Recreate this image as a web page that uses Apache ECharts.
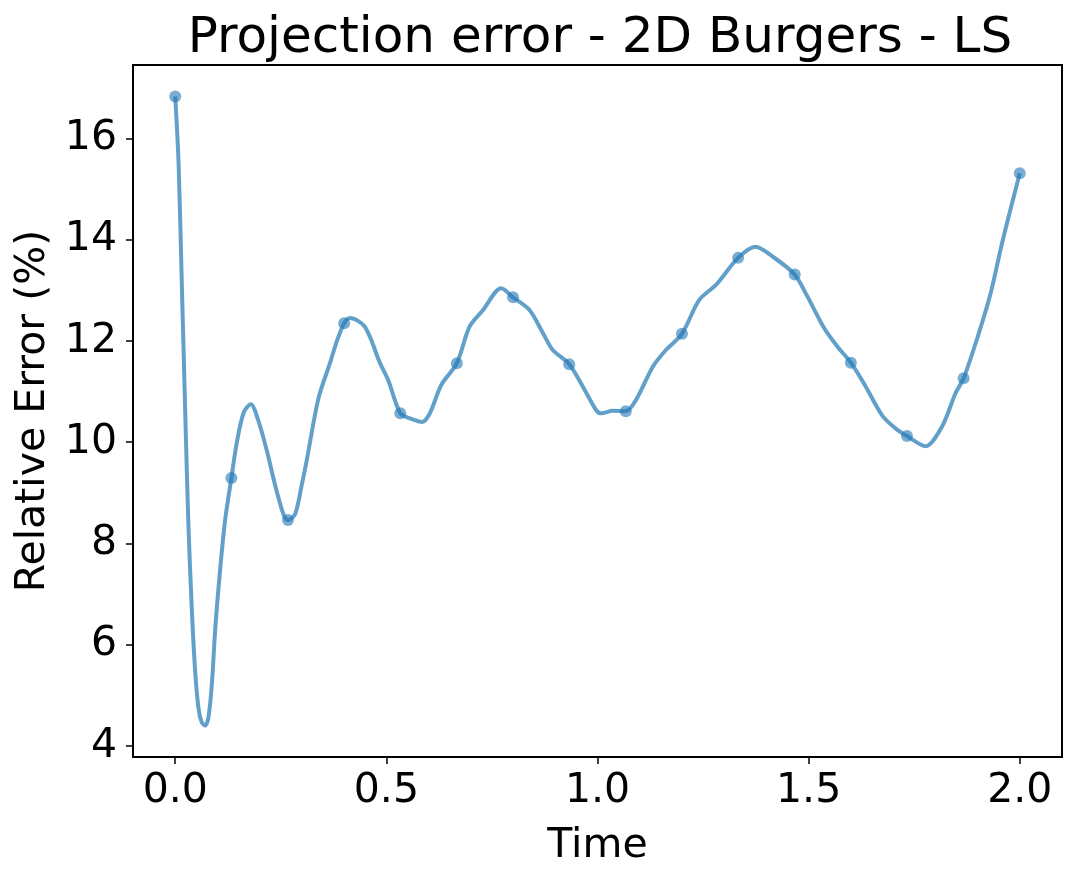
<!DOCTYPE html>
<html>
<head>
<meta charset="utf-8">
<title>Projection error - 2D Burgers - LS</title>
<script src="https://cdn.jsdelivr.net/npm/echarts@6/dist/echarts.min.js"></script>
<style>
  html, body { margin: 0; padding: 0; background: #fff; }
  #chart { width: 1077px; height: 880px; }
</style>
</head>
<body>
<div id="chart"></div>
<script>
// dense curve
var timeFine = [
  0.000, 0.008, 0.016, 0.024, 0.031, 0.039, 0.047, 0.055, 0.063, 0.071,
  0.079, 0.087, 0.095, 0.106, 0.118, 0.133, 0.146, 0.162, 0.179, 0.197,
  0.217, 0.236, 0.256, 0.267, 0.284, 0.300, 0.311, 0.339, 0.366, 0.383,
  0.400, 0.414, 0.449, 0.485, 0.504, 0.533, 0.556, 0.585, 0.603, 0.630,
  0.667, 0.697, 0.729, 0.772, 0.800, 0.839, 0.871, 0.894, 0.933, 0.965,
  0.997, 1.009, 1.036, 1.067, 1.091, 1.131, 1.162, 1.200, 1.241, 1.281,
  1.333, 1.374, 1.414, 1.467, 1.497, 1.537, 1.568, 1.600, 1.635, 1.674,
  1.706, 1.733, 1.777, 1.816, 1.848, 1.867, 1.903, 1.931, 1.958, 1.982,
  2.000
]
var errorFine = [
  16.83, 15.50, 13.00, 10.50, 8.42, 6.75, 5.50, 4.75, 4.46, 4.40,
  4.58, 5.25, 6.34, 7.45, 8.45, 9.29, 10.00, 10.58, 10.75, 10.42,
  9.83, 9.17, 8.58, 8.46, 8.58, 9.17, 9.62, 10.86, 11.55, 12.00,
  12.35, 12.45, 12.28, 11.56, 11.23, 10.57, 10.47, 10.40, 10.57, 11.13,
  11.56, 12.28, 12.61, 13.04, 12.86, 12.61, 12.15, 11.82, 11.54, 11.10,
  10.63, 10.57, 10.62, 10.61, 10.83, 11.49, 11.82, 12.14, 12.81, 13.11,
  13.64, 13.86, 13.67, 13.31, 12.88, 12.25, 11.89, 11.57, 11.10, 10.53,
  10.27, 10.12, 9.92, 10.31, 10.97, 11.26, 12.15, 12.94, 13.93, 14.73,
  15.31
]

// marked snapshots
var timeMarkers = [
  0.000, 0.133, 0.267, 0.400, 0.533, 0.667, 0.800, 0.933,
  1.067, 1.200, 1.333, 1.467, 1.600, 1.733, 1.867, 2.000
]
var errorMarkers = [
  16.83, 9.29, 8.46, 12.35, 10.57, 11.56, 12.86, 11.54,
  10.61, 12.14, 13.64, 13.31, 11.57, 10.12, 11.26, 15.31
]

var xTicks = [0, 0.5, 1.0, 1.5, 2.0]
var yTicks = [4, 6, 8, 10, 12, 14, 16]

var chart = echarts.init(document.getElementById('chart'))

var lineData = timeFine.map(function (t, i) { return [t, errorFine[i]] })
var markerData = timeMarkers.map(function (t, i) { return [t, errorMarkers[i]] })

var fontFamily = 'DejaVu Sans'
var blue = 'rgba(31, 119, 180, 0.7)'

var option = {
  animation: false,
  backgroundColor: '#fff',
  textStyle: { fontFamily: fontFamily },
  title: {
    text: 'Projection error - 2D Burgers - LS',
    left: 595,
    textAlign: 'center',
    top: 9,
    textStyle: {
      fontFamily: fontFamily,
      fontSize: 50,
      fontWeight: 'normal',
      color: '#000',
    },
  },
  grid: {
    left: 133,
    right: 15,
    top: 65,
    bottom: 123,
    show: true,
    borderColor: '#000',
    borderWidth: 2,
    backgroundColor: 'transparent',
  },
  xAxis: {
    type: 'value',
    min: -0.1,
    max: 2.1,
    name: 'Time',
    nameLocation: 'middle',
    nameGap: 69,
    nameTextStyle: { fontSize: 41, color: '#000', fontFamily: fontFamily },
    axisLine: { show: true, onZero: false, lineStyle: { color: '#000', width: 2 } },
    axisTick: {
      show: true,
      length: 7,
      lineStyle: { color: '#000', width: 1.5 },
      customValues: xTicks,
    },
    axisLabel: {
      fontSize: 41,
      color: '#000',
      margin: 14,
      customValues: xTicks,
      formatter: function (v) { return v.toFixed(1) },
    },
    splitLine: { show: false },
  },
  yAxis: {
    type: 'value',
    min: 3.78,
    max: 17.45,
    name: 'Relative Error (%)',
    nameLocation: 'middle',
    nameGap: 77,
    nameTextStyle: { fontSize: 41, color: '#000', fontFamily: fontFamily },
    axisLine: { show: true, onZero: false, lineStyle: { color: '#000', width: 2 } },
    axisTick: {
      show: true,
      length: 7,
      lineStyle: { color: '#000', width: 1.5 },
      customValues: yTicks,
    },
    axisLabel: {
      fontSize: 41,
      color: '#000',
      margin: 16,
      customValues: yTicks,
      formatter: function (v) { return String(Math.round(v)) },
    },
    splitLine: { show: false },
  },
  series: [
    {
      name: 'error',
      type: 'line',
      data: lineData,
      smooth: 0.3,
      showSymbol: false,
      lineStyle: { color: blue, width: 4 },
      silent: true,
    },
    {
      name: 'snapshots',
      type: 'scatter',
      data: markerData,
      symbol: 'circle',
      symbolSize: 12,
      itemStyle: { color: 'rgba(31, 119, 180, 0.75)' },
      silent: true,
    },
  ],
}

chart.setOption(option)
</script>
</body>
</html>
